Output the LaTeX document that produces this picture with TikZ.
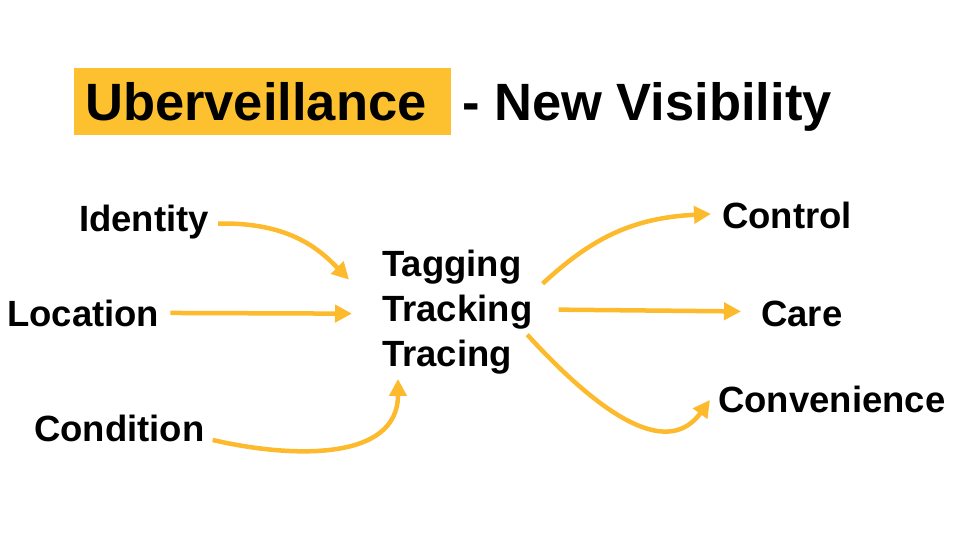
\documentclass[tikz,border=0pt]{standalone}
\usepackage{fontspec}
\setmainfont{Liberation Sans}
\usetikzlibrary{arrows.meta}
\definecolor{boxgold}{RGB}{253,193,47}
\definecolor{arrowgold}{RGB}{252,186,44}
\tikzset{
  lbl/.style={font=\bfseries\fontsize{36.5}{40}\selectfont, inner sep=0pt, anchor=base west},
  flow/.style={draw=arrowgold, line width=4.5pt, -{Triangle[length=17pt,width=17pt]}},
}
\begin{document}
\begin{tikzpicture}[x=1pt,y=-1pt]
\useasboundingbox (0,0) rectangle (960,540);

\node[fill=boxgold, inner xsep=11pt, minimum height=67pt, anchor=west, font=\bfseries\fontsize{52.5}{60}\selectfont] (uber) at (74,101.5) {Uberveillance\hspace*{13pt}};
\node[inner sep=0pt, anchor=base west, font=\bfseries\fontsize{52.5}{60}\selectfont] (visib) at (462,121) {- New Visibility};

\node[lbl] (identity) at (79,231) {Identity};
\node[lbl] (location) at (7,326) {Location};
\node[lbl] (condition) at (34,441) {Condition};

\node[lbl] (tagging) at (382,276) {Tagging};
\node[lbl] (tracking) at (382,321) {Tracking};
\node[lbl] (tracing) at (382,366) {Tracing};

\node[lbl] (control) at (722,228) {Control};
\node[lbl] (care) at (761,326) {Care};
\node[lbl] (conven) at (718,412) {Convenience};

% inputs
\draw[flow] ([xshift=9pt,yshift=-2pt]identity.east) .. controls (290,222) and (320,250) .. ([xshift=-33pt,yshift=-13pt]tagging.west);
\draw[flow] ([xshift=11pt]location.east) -- ([xshift=-30pt,yshift=-2pt]tracking.west);
\draw[flow] ([xshift=8pt,yshift=-12pt]condition.east) .. controls (290,458) and (398,462) .. ([xshift=16pt,yshift=-5pt]tracing.south west);

% outputs
\draw[flow] ([xshift=21pt,yshift=-17pt]tagging.east) .. controls (590,240) and (630,218) .. ([xshift=-11pt,yshift=1pt]control.west);
\draw[flow] ([xshift=26pt,yshift=2pt]tracking.east) -- ([xshift=-20pt,yshift=2pt]care.west);
\draw[flow] ([xshift=15pt,yshift=22pt]tracing.east) .. controls (610,425) and (670,455) .. ([xshift=-8pt,yshift=-1pt]conven.west);

\end{tikzpicture}
\end{document}
